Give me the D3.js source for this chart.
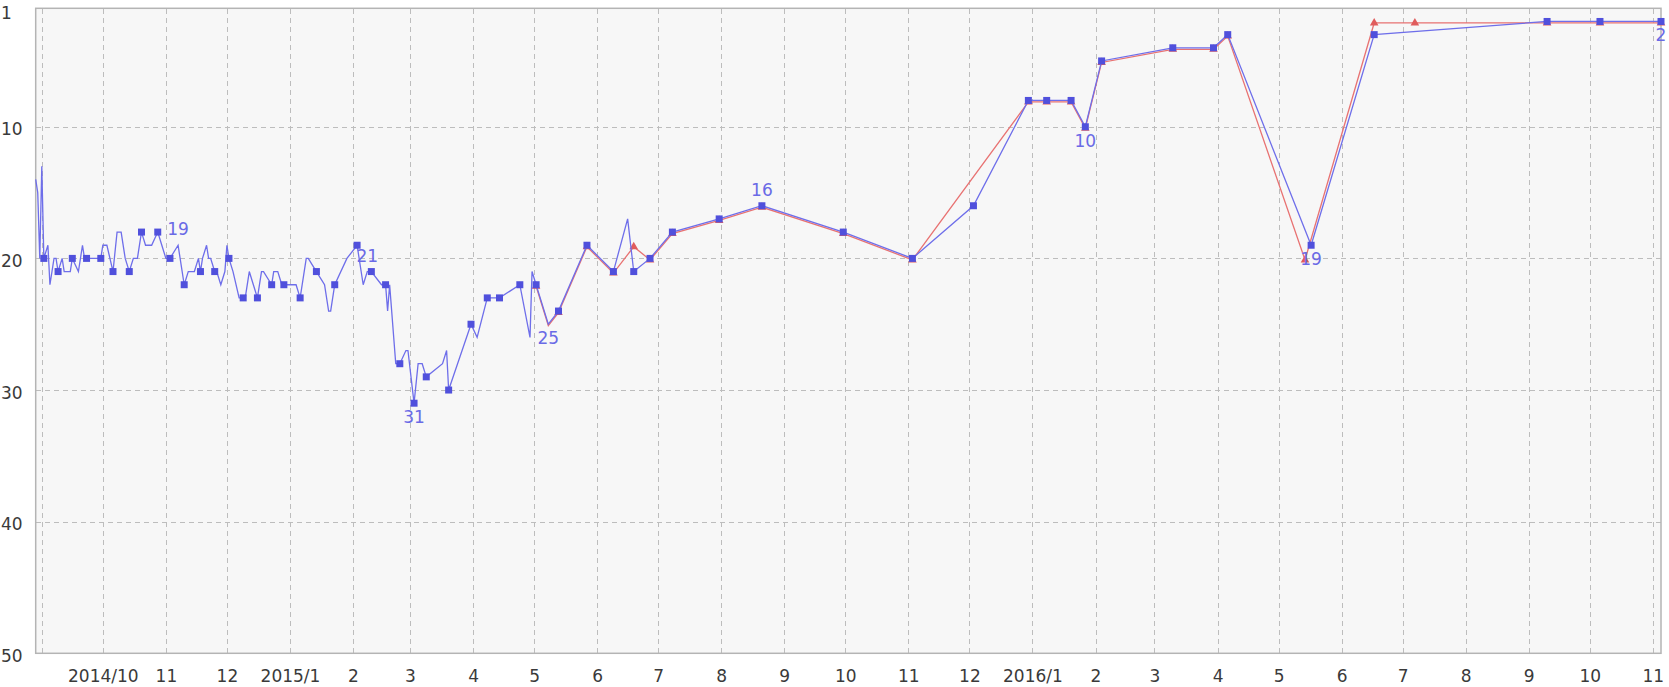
<!DOCTYPE html>
<html><head><meta charset="utf-8">
<script src="https://cdn.jsdelivr.net/npm/d3@7"></script>
<style>
html,body{margin:0;padding:0;background:#fff;}
svg{display:block;font-family:"DejaVu Sans",Verdana,sans-serif;}
</style></head><body>
<svg id="chart" width="1669" height="687"></svg>
<script>
// ---- data ----
const blueDates = ["2014-08-29","2014-08-30","2014-08-31","2014-09-01","2014-09-02","2014-09-04","2014-09-05","2014-09-07","2014-09-08","2014-09-09",
"2014-09-11","2014-09-12","2014-09-15","2014-09-16","2014-09-19","2014-09-21","2014-09-22","2014-09-23","2014-09-30","2014-10-01",
"2014-10-03","2014-10-06","2014-10-08","2014-10-10","2014-10-12","2014-10-14","2014-10-16","2014-10-18","2014-10-20","2014-10-22",
"2014-10-25","2014-10-28","2014-10-30","2014-11-01","2014-11-03","2014-11-07","2014-11-10","2014-11-12","2014-11-15","2014-11-17",
"2014-11-18","2014-11-19","2014-11-21","2014-11-22","2014-11-23","2014-11-25","2014-11-26","2014-11-28","2014-11-30","2014-12-01",
"2014-12-02","2014-12-04","2014-12-07","2014-12-09","2014-12-10","2014-12-12","2014-12-14","2014-12-16","2014-12-18","2014-12-19",
"2014-12-23","2014-12-24","2014-12-26","2014-12-28","2014-12-29","2014-12-31","2015-01-04","2015-01-06","2015-01-09","2015-01-10",
"2015-01-14","2015-01-18","2015-01-20","2015-01-21","2015-01-23","2015-01-29","2015-02-03","2015-02-06","2015-02-08","2015-02-10",
"2015-02-15","2015-02-17","2015-02-18","2015-02-19","2015-02-22","2015-02-24","2015-02-27","2015-02-28","2015-03-03","2015-03-05",
"2015-03-07","2015-03-09","2015-03-17","2015-03-19","2015-03-20","2015-03-31","2015-04-03","2015-04-08","2015-04-14","2015-04-24",
"2015-04-29","2015-04-30","2015-05-02","2015-05-08","2015-05-13","2015-05-27","2015-06-09","2015-06-16","2015-06-19","2015-06-27",
"2015-07-08","2015-07-31","2015-08-21","2015-09-30","2015-11-03","2015-12-03","2015-12-30","2016-01-08","2016-01-20","2016-01-27",
"2016-02-04","2016-03-10","2016-03-30","2016-04-06","2016-05-17","2016-06-17","2016-09-10","2016-10-06","2016-11-05"];
const blueValues = [14,15,20,13,20,19,22,20,20,21,
20,21,21,20,21,19,20,20,20,19,
19,21,18,18,20,21,20,20,18,19,
19,18,19,20,20,19,22,21,21,20,
21,20,19,20,20,21,21,22,21,19,
20,21,23,23,23,21,22,23,21,21,
22,21,21,22,22,22,22,23,20,20,
21,22,24,24,22,20,19,22,21,21,
22,22,24,22,28,28,27,27,31,28,
28,29,28,27,30,25,26,23,23,22,
26,21,22,25,24,19,21,17,21,20,
18,17,16,18,20,16,8,8,8,10,
5,4,4,3,19,3,2,2,2];
const blueMarkers = [0,0,0,0,1,0,0,0,0,1,
0,0,0,1,0,0,0,1,1,0,
0,1,0,0,0,1,0,0,1,0,
0,1,0,0,1,0,1,0,0,0,
1,0,0,0,0,1,0,0,0,0,
1,0,0,1,0,0,0,1,0,0,
1,0,0,0,1,0,0,1,0,0,
1,0,0,0,1,0,1,0,0,1,
0,1,0,0,0,1,0,0,1,0,
0,1,0,0,1,1,0,1,1,1,
0,0,1,0,1,1,1,0,1,1,
1,1,1,1,1,1,1,1,1,1,
1,1,1,1,1,1,1,1,1];

const redDates = ["2015-05-02","2015-05-08","2015-05-13","2015-05-27","2015-06-09","2015-06-19","2015-06-27","2015-07-08","2015-07-31","2015-08-21",
"2015-09-30","2015-11-03","2015-12-30","2016-01-08","2016-01-20","2016-01-27","2016-02-04","2016-03-10","2016-03-30","2016-04-06",
"2016-05-14","2016-06-17","2016-07-07","2016-09-10","2016-10-06","2016-11-05"];
const redValues = [22,25,24,19,21,19,20,18,17,16,
18,20,8,8,8,10,5,4,4,3,
20,2,2,2,2,2];
const redMarkers = [1,0,1,1,1,1,1,1,1,1,
1,1,1,1,1,1,1,1,1,1,
1,1,1,1,1,1];

const labelDates = ["2014-11-07","2015-02-08","2015-03-03","2015-05-08","2015-08-21","2016-01-27","2016-05-17","2016-11-05"];
const labelSides = ["above","above","below","below","above","below","below","below"];

const xTickDates = ["2014-09-01","2014-10-01","2014-11-01","2014-12-01","2015-01-01","2015-02-01","2015-03-01","2015-04-01","2015-05-01",
"2015-06-01","2015-07-01","2015-08-01","2015-09-01","2015-10-01","2015-11-01","2015-12-01","2016-01-01","2016-02-01","2016-03-01",
"2016-04-01","2016-05-01","2016-06-01","2016-07-01","2016-08-01","2016-09-01","2016-10-01","2016-11-01"];
const xTickLabels = ["","2014/10","11","12","2015/1","2","3","4","5","6","7","8","9","10","11","12","2016/1","2","3","4","5","6","7","8","9","10","11"];
const yTickValues = [1,10,20,30,40,50];
const yGridValues = [10,20,30,40];

// ---- chart ----
const W = 1669, H = 687;
const m = {top: 8.3, right: 8, bottom: 33.7, left: 35.7};
const pw = W - m.left - m.right, ph = H - m.top - m.bottom;
const parse = d3.timeParse("%Y-%m-%d");
const svg = d3.select("#chart");

const x = d3.scaleTime()
  .domain([parse(blueDates[0]), parse(blueDates[blueDates.length - 1])])
  .range([m.left, W - m.right]);
const y = d3.scaleLinear().domain([1, 50]).range([m.top, H - m.bottom]);

const blue = blueDates.map((d, i) => ({date: parse(d), value: blueValues[i], mark: blueMarkers[i]}));
const red = redDates.map((d, i) => ({date: parse(d), value: redValues[i], mark: redMarkers[i]}));

// background
svg.append("rect").attr("x", m.left).attr("y", m.top).attr("width", pw).attr("height", ph)
  .attr("fill", "#f7f7f7");

// vertical grid
const gx = svg.append("g").attr("transform", `translate(0,${H - m.bottom})`)
  .call(d3.axisBottom(x).tickValues(xTickDates.map(parse)).tickSize(-ph).tickFormat(""));
gx.select(".domain").remove();
gx.selectAll("line").attr("stroke", "#bdbdbd").attr("stroke-dasharray", "5,4").attr("shape-rendering", "crispEdges");

// horizontal grid
const gy = svg.append("g").attr("transform", `translate(${m.left},0)`)
  .call(d3.axisLeft(y).tickValues(yGridValues).tickSize(-pw).tickFormat(""));
gy.select(".domain").remove();
gy.selectAll("line").attr("stroke", "#bdbdbd").attr("stroke-dasharray", "5,4").attr("shape-rendering", "crispEdges");

// x labels
const xl = svg.append("g").attr("transform", `translate(0,${H - m.bottom})`)
  .call(d3.axisBottom(x).tickValues(xTickDates.map(parse)).tickSize(0)
    .tickFormat((d, i) => xTickLabels[i]));
xl.select(".domain").remove();
xl.selectAll("text").attr("y", 28.3).attr("dy", 0)
  .attr("font-size", 17).attr("font-family", "DejaVu Sans, sans-serif").attr("fill", "#3a3a3a");

// y labels
const yl = svg.append("g").attr("transform", `translate(${m.left},0)`)
  .call(d3.axisLeft(y).tickValues(yTickValues).tickSize(0));
yl.select(".domain").remove();
yl.selectAll("text")
  .attr("x", 1 - m.left).attr("text-anchor", "start").attr("dy", 0)
  .attr("y", d => Math.max(y(d) + 8, 18) - y(d))
  .attr("font-size", 17).attr("font-family", "DejaVu Sans, sans-serif").attr("fill", "#3a3a3a");

// frame
svg.append("rect").attr("x", m.left).attr("y", m.top).attr("width", pw).attr("height", ph)
  .attr("fill", "none").attr("stroke", "#b4b4b4").attr("stroke-width", 1.5);

const line = d3.line().x(d => x(d.date)).y(d => y(d.value));

// red series
const rg = svg.append("g").attr("transform", "translate(0,1.5)");
rg.append("path").datum(red).attr("d", line)
  .attr("fill", "none").attr("stroke", "#e87272").attr("stroke-width", 1.3);
rg.selectAll("path.tri").data(red.filter(d => d.mark)).join("path").attr("class", "tri")
  .attr("transform", d => `translate(${x(d.date)},${y(d.value)})`)
  .attr("d", d3.symbol(d3.symbolTriangle, 32))
  .attr("fill", "#e05c5c");

// blue series
svg.append("path").datum(blue).attr("d", line)
  .attr("fill", "none").attr("stroke", "#6e6eea").attr("stroke-width", 1.3)
  .attr("stroke-linejoin", "miter");
svg.selectAll("path.sq").data(blue.filter(d => d.mark)).join("path").attr("class", "sq")
  .attr("transform", d => `translate(${x(d.date)},${y(d.value)})`)
  .attr("d", d3.symbol(d3.symbolSquare, 49))
  .attr("fill", "#5050dc");

// value labels
const labels = labelDates.map((d, i) => {
  const p = blue.find(b => b.date.getTime() === parse(d).getTime());
  return {date: p.date, value: p.value, side: labelSides[i]};
});
svg.selectAll("text.vl").data(labels).join("text").attr("class", "vl")
  .attr("x", d => x(d.date))
  .attr("y", d => y(d.value) + (d.side === "above" ? -10 : 20))
  .attr("text-anchor", "middle")
  .attr("font-size", 17).attr("fill", "#6a6ae6")
  .text(d => d.value);
</script>
</body></html>
